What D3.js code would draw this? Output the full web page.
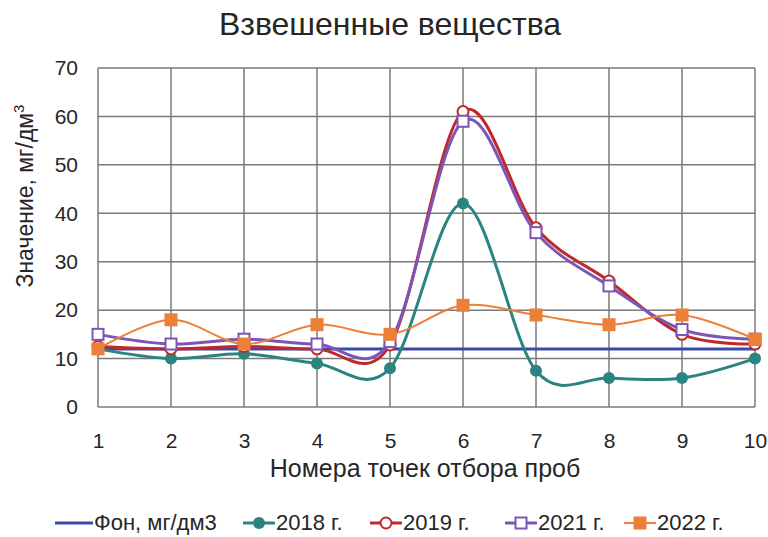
<!DOCTYPE html>
<html>
<head>
<meta charset="utf-8">
<script src="https://cdn.jsdelivr.net/npm/d3@7"></script>
<style>
  body { margin: 0; background: #fff; }
  text { font-family: "Liberation Sans", Arial, sans-serif; fill: #262626; }
</style>
</head>
<body>
<div id="chart"></div>
<script>
var points = [1, 2, 3, 4, 5, 6, 7, 8, 9, 10];
var yTicks = [0, 10, 20, 30, 40, 50, 60, 70];
var fon = [12, 12, 12, 12, 12, 12, 12, 12, 12, 12];
var y2018 = [12, 10, 11, 9, 8, 42, 7.5, 6, 6, 10];
var y2019 = [12.5, 12, 12.5, 12, 12.8, 61, 37, 26, 15, 13];
var y2021 = [15, 13, 14, 13, 13.5, 59, 36, 25, 16, 14];
var y2022 = [12, 18, 13, 17, 15, 21, 19, 17, 19, 14];

var w = 768, h = 537;
var margin = {left: 98, right: 13, top: 68, bottom: 130};

var svg = d3.select("#chart").append("svg")
  .attr("width", w)
  .attr("height", h);

var x = d3.scaleLinear().domain([1, 10]).range([margin.left, w - margin.right]);
var y = d3.scaleLinear().domain([0, 70]).range([h - margin.bottom, margin.top]);

// grid
var grid = svg.append("g").attr("stroke", "#7a7a7a").attr("stroke-width", 1.5);
grid.selectAll(".hg").data(yTicks).enter().append("line")
  .attr("x1", x(1)).attr("x2", x(10))
  .attr("y1", function(d){ return y(d); }).attr("y2", function(d){ return y(d); });
grid.selectAll(".vg").data(points).enter().append("line")
  .attr("x1", function(d){ return x(d); }).attr("x2", function(d){ return x(d); })
  .attr("y1", y(0)).attr("y2", y(70));

// axes (labels only)
var yAxis = d3.axisLeft(y).tickValues(yTicks).tickSize(0).tickPadding(20);
svg.append("g").attr("transform", "translate(" + margin.left + ",0)").call(yAxis)
  .call(function(g){ g.select(".domain").remove(); })
  .selectAll("text").style("font-size", "21px").attr("fill", "#262626");

var xAxis = d3.axisBottom(x).tickValues(points).tickSize(0).tickPadding(26);
svg.append("g").attr("transform", "translate(0," + y(0) + ")").call(xAxis)
  .call(function(g){ g.select(".domain").remove(); })
  .selectAll("text").style("font-size", "21px").attr("fill", "#262626");

// titles
svg.append("text").attr("x", 390).attr("y", 35).attr("text-anchor", "middle")
  .style("font-size", "32px").text("Взвешенные вещества");

svg.append("text").attr("x", 425).attr("y", 477).attr("text-anchor", "middle")
  .style("font-size", "25px").text("Номера точек отбора проб");

var yl = svg.append("text")
  .attr("transform", "translate(33," + 196 + ") rotate(-90)")
  .attr("text-anchor", "middle")
  .style("font-size", "23px");
yl.append("tspan").text("Значение, мг/дм");
yl.append("tspan").attr("dy", -9).style("font-size", "15px").text("3");

var line = d3.line()
  .x(function(d, i){ return x(points[i]); })
  .y(function(d){ return y(d); })
  .curve(d3.curveCatmullRom.alpha(0));
var straight = d3.line()
  .x(function(d, i){ return x(points[i]); })
  .y(function(d){ return y(d); });

var series = [
  {name: "Фон, мг/дм3", data: fon, color: "#3a4aa6", width: 3, marker: "none", smooth: false},
  {name: "2018 г.", data: y2018, color: "#2a8482", width: 3, marker: "dot"},
  {name: "2019 г.", data: y2019, color: "#c0292c", width: 3, marker: "ring"},
  {name: "2021 г.", data: y2021, color: "#7d55b6", width: 3, marker: "box"},
  {name: "2022 г.", data: y2022, color: "#ec8038", width: 2, marker: "square"}
];

function drawMarker(g, type, color, cx, cy) {
  if (type == "dot") {
    g.append("circle").attr("cx", cx).attr("cy", cy).attr("r", 6).attr("fill", color);
  } else if (type == "ring") {
    g.append("circle").attr("cx", cx).attr("cy", cy).attr("r", 5.5)
      .attr("fill", "#fff").attr("stroke", color).attr("stroke-width", 2);
  } else if (type == "box") {
    g.append("rect").attr("x", cx - 5.5).attr("y", cy - 5.5).attr("width", 11).attr("height", 11)
      .attr("fill", "#fff").attr("stroke", color).attr("stroke-width", 2);
  } else if (type == "square") {
    g.append("rect").attr("x", cx - 6.5).attr("y", cy - 6.5).attr("width", 13).attr("height", 13)
      .attr("fill", color);
  }
}

series.forEach(function(s){
  var g = svg.append("g");
  g.append("path")
    .attr("d", s.smooth === false ? straight(s.data) : line(s.data))
    .attr("fill", "none")
    .attr("stroke", s.color)
    .attr("stroke-width", s.width);
  s.data.forEach(function(v, i){
    drawMarker(g, s.marker, s.color, x(points[i]), y(v));
  });
});

// legend
var legendX = [55, 243, 370, 505, 624];
var ly = 523;
series.forEach(function(s, i){
  var g = svg.append("g");
  var x0 = legendX[i];
  var len = i == 0 ? 38 : 32;
  g.append("line").attr("x1", x0).attr("x2", x0 + len).attr("y1", ly).attr("y2", ly)
    .attr("stroke", s.color).attr("stroke-width", s.width);
  drawMarker(g, s.marker, s.color, x0 + len / 2, ly);
  g.append("text").attr("x", x0 + len + 1).attr("y", ly + 7)
    .style("font-size", "22px").text(s.name);
});
</script>
</body>
</html>
